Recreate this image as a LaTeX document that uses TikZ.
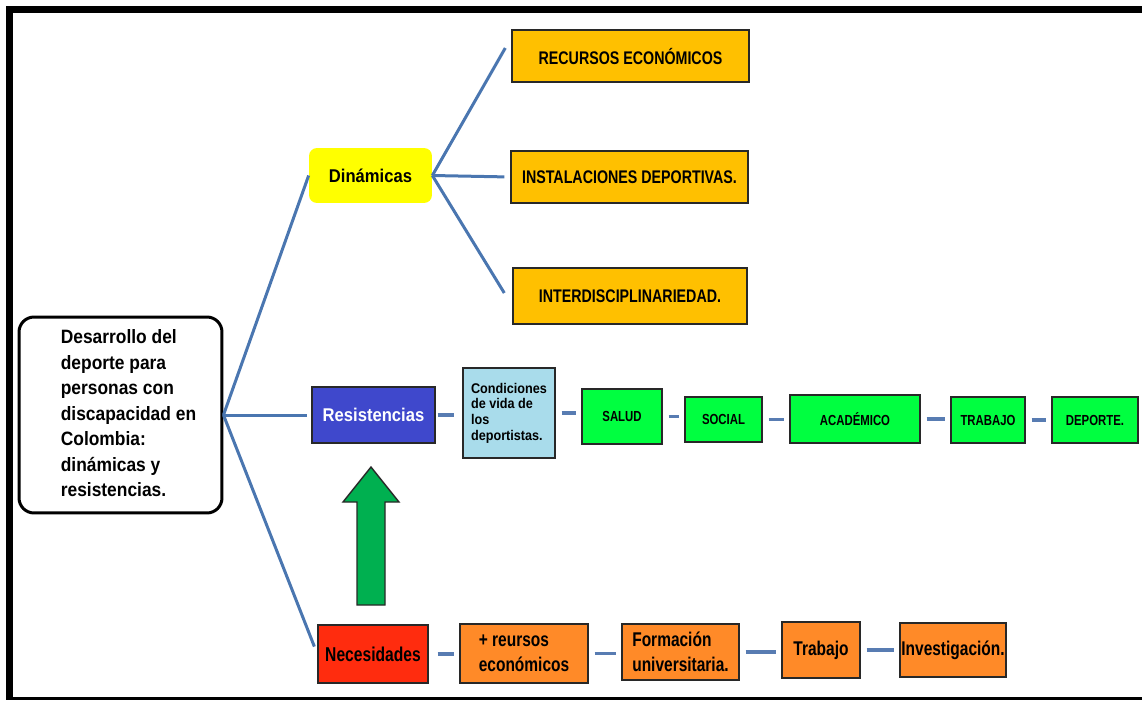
\documentclass[tikz,border=0pt]{standalone}
\usepackage{fontspec}
\setmainfont{Liberation Sans}[FakeStretch=0.9]
\newfontfamily\narrowf{Liberation Sans}[FakeStretch=0.78]
\usetikzlibrary{calc}
\definecolor{conn}{RGB}{74,118,176}
\definecolor{chain}{RGB}{88,124,178}
\definecolor{dyel}{RGB}{255,255,0}
\definecolor{gold}{RGB}{255,192,0}
\definecolor{resblue}{RGB}{63,72,204}
\definecolor{necred}{RGB}{255,44,14}
\definecolor{orng}{RGB}{255,138,40}
\definecolor{lblue}{RGB}{169,220,235}
\definecolor{lgreen}{RGB}{0,255,64}
\definecolor{agreen}{RGB}{0,176,80}
\definecolor{edge}{RGB}{40,40,40}
\begin{document}
\begin{tikzpicture}[x=0.02cm,y=-0.02cm,
  box/.style={draw=edge,line width=1.4pt*0.6,inner sep=0pt,align=center,font=\bfseries},
  goldbox/.style={box,fill=gold,font=\narrowf\bfseries\fontsize{10.4}{12}\selectfont},
  greenbox/.style={box,fill=lgreen,font=\narrowf\bfseries\fontsize{8.3}{10}\selectfont},
  orbox/.style={box,fill=orng,font=\narrowf\bfseries\fontsize{11.3}{14.2}\selectfont},
  mainlink/.style={draw=conn,line width=0.06cm},
  link/.style={draw=chain,line width=0.075cm,shorten >=0.1cm,shorten <=0.12cm}]
\useasboundingbox (0,0) rectangle (1142,700);
% frame
\draw[line width=0.14cm] (6,9.5) -- (1142,9.5);
\draw[line width=0.14cm] (9.5,6) -- (9.5,700);
\draw[line width=0.07cm] (6,698.5) -- (1142,698.5);
% main node
\node[draw=black,line width=0.06cm,rounded corners=0.3cm,minimum width=4.06cm,minimum height=3.92cm,inner sep=0pt,
  font=\bfseries\fontsize{11}{14.5}\selectfont] (main) at (120.5,415)
  {\hspace*{0.32cm}\begin{tabular}{@{}l@{}}Desarrollo del\\deporte para\\personas con\\discapacidad en\\Colombia:\\dinámicas y\\resistencias.\end{tabular}};
% level 1
\node[fill=dyel,rounded corners=0.16cm,minimum width=2.46cm,minimum height=1.1cm,inner sep=0pt,
  font=\bfseries\fontsize{10.5}{12}\selectfont] (din) at (370.5,175.5) {Dinámicas};
\node[box,fill=resblue,text=white,minimum width=2.46cm,minimum height=1.12cm,
  font=\bfseries\fontsize{10.5}{12}\selectfont] (res) at (373.5,415) {Resistencias};
\node[box,fill=necred,minimum width=2.2cm,minimum height=1.16cm,
  font=\narrowf\bfseries\fontsize{11.4}{13}\selectfont] (nec) at (373,654) {Necesidades};
% dinamicas children
\node[goldbox,minimum width=4.74cm,minimum height=1.04cm] (rec) at (630.5,56) {RECURSOS ECONÓMICOS};
\node[goldbox,minimum width=4.74cm,minimum height=1.04cm] (inst) at (629.5,177) {INSTALACIONES DEPORTIVAS.};
\node[goldbox,minimum width=4.68cm,minimum height=1.12cm] (inter) at (630,296) {INTERDISCIPLINARIEDAD.};
% resistencias chain
\node[box,fill=lblue,minimum width=1.84cm,minimum height=1.8cm,align=left,
  font=\bfseries\fontsize{8}{8.9}\selectfont] (cond) at (509,413) {Condiciones\\de vida de\\los\\deportistas.};
\node[greenbox,minimum width=1.6cm,minimum height=1.1cm] (salud) at (622,416.5) {SALUD};
\node[greenbox,minimum width=1.54cm,minimum height=0.9cm] (social) at (723.5,419.5) {SOCIAL};
\node[greenbox,minimum width=2.6cm,minimum height=0.96cm] (acad) at (855,419) {ACADÉMICO};
\node[greenbox,minimum width=1.48cm,minimum height=0.92cm] (trab) at (988,420) {TRABAJO};
\node[greenbox,minimum width=1.72cm,minimum height=0.92cm] (dep) at (1095,420) {DEPORTE.};
% necesidades chain
\node[orbox,minimum width=2.56cm,minimum height=1.18cm,align=left] (reu) at (524,653.5) {+ reursos\\económicos};
\node[orbox,minimum width=2.34cm,minimum height=1.12cm,align=left] (form) at (680.5,652) {Formación\\universitaria.};
\node[orbox,minimum width=1.56cm,minimum height=1.12cm] (trab2) at (821,650) {Trabajo};
\node[orbox,minimum width=2.12cm,minimum height=1.08cm] (inv) at (953,650) {Investigación.};
% main connectors
\draw[mainlink] (main.east) -- (din.west);
\draw[mainlink,shorten >=0.08cm] (main.east) -- (res.west);
\draw[mainlink,shorten >=0.16cm] (main.east) -- (nec.west);
\draw[mainlink] (din.east) -- ($(rec.west)+(-6,-8)$);
\draw[mainlink,shorten >=0.12cm] (din.east) -- (inst.west);
\draw[mainlink] (din.east) -- ($(inter.west)+(-8,-3)$);
% chains
\draw[link,shorten <=0.04cm,shorten >=0.16cm] (res.east) -- (res.east -| cond.west);
\draw[link] (cond.east) -- (cond.east -| salud.west);
\draw[link] (salud.east) -- (salud.east -| social.west);
\draw[link] (social.east) -- (social.east -| acad.west);
\draw[link] (acad.east) -- (acad.east -| trab.west);
\draw[link] (trab.east) -- (trab.east -| dep.west);
\draw[link,shorten <=0.18cm] (nec.east) -- (nec.east -| reu.west);
\draw[link] (reu.east) -- (reu.east -| form.west);
\draw[link] (form.east) -- (form.east -| trab2.west);
\draw[link] (trab2.east) -- (trab2.east -| inv.west);
% green block arrow
\draw[fill=agreen,draw=edge,line width=0.8pt,line join=miter]
  (357,605) -- (357,502) -- (343,502) -- (371,467) -- (399,502) -- (385,502) -- (385,605) -- cycle;
\end{tikzpicture}
\end{document}
